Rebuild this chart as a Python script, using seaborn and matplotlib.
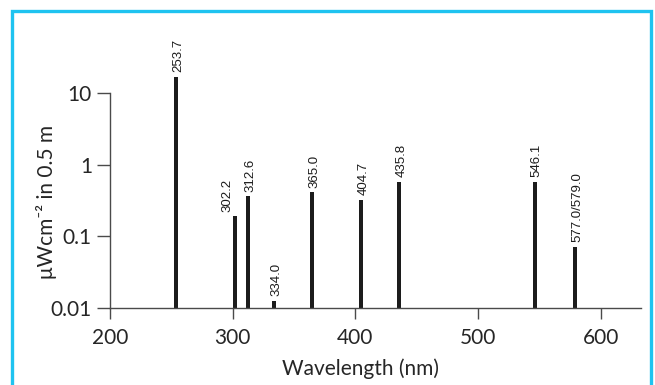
import matplotlib
matplotlib.use("Agg")
import matplotlib.pyplot as plt
from matplotlib.patches import Rectangle
import seaborn as sns
import pandas as pd

# DATA

wavelengths = [253.7, 302.2, 312.6, 334.0, 365.0, 404.7, 435.8, 546.1, 579.0]
intensity = [16.5, 0.19, 0.36, 0.0128, 0.41, 0.32, 0.58, 0.58, 0.072]
line_labels = ["253.7", "302.2", "312.6", "334.0", "365.0",
               "404.7", "435.8", "546.1", "577.0/579.0"]
x_ticks = [200, 300, 400, 500, 600]
y_ticks = [0.01, 0.1, 1, 10]
y_tick_labels = ["0.01", "0.1", "1", "10"]

df = pd.DataFrame({"wl": wavelengths, "val": intensity})

sns.set_style("white")
plt.rcParams["font.family"] = ["Lato", "DejaVu Sans"]

axis_grey = "#4a4a4a"

fig = plt.figure(figsize=(6.55, 3.85), dpi=100)
ax = fig.add_axes([110 / 655, 1 - 308.3 / 385, 531 / 655, 271.6 / 385])

sns.barplot(
    data=df, x="wl", y="val", native_scale=True, width=0.32,
    color="#1c1c1c", saturation=1, errorbar=None, linewidth=0, ax=ax
)

ax.set_yscale("log")
ax.set_ylim(0.01, 60)
ax.set_xlim(200, 632.8)

ax.set_xticks(x_ticks)
ax.set_xticklabels([str(t) for t in x_ticks])
ax.set_yticks(y_ticks)
ax.set_yticklabels(y_tick_labels)
ax.minorticks_off()

ax.tick_params(axis="y", direction="out", length=9.5, width=1.0,
               color=axis_grey, labelsize=15, pad=3.5, left=True)
ax.tick_params(axis="x", direction="out", length=8, width=1.0,
               color=axis_grey, labelsize=15, pad=6, bottom=True)

for side in ["top", "right"]:
    ax.spines[side].set_visible(False)
for side in ["left", "bottom"]:
    ax.spines[side].set_color(axis_grey)
    ax.spines[side].set_linewidth(1.0)
ax.spines["left"].set_bounds(0.01, 10)

ax.set_xlabel("Wavelength (nm)", fontsize=15)
ax.xaxis.set_label_coords(0.472, -0.185)
ax.set_ylabel("μWcm⁻² in 0.5 m", fontsize=15)
ax.yaxis.set_label_coords(-0.10, 0.39)

# line labels above each bar
label_dx = {"302.2": -6}
for wl, val, lab in zip(wavelengths, intensity, line_labels):
    ax.annotate(
        lab, (wl, val), xytext=(label_dx.get(lab, 1.5), 3.5),
        textcoords="offset points", rotation=90, ha="center", va="bottom",
        fontsize=9.5, family=["Liberation Sans", "DejaVu Sans"], color="#1c1c1c"
    )

# cyan frame around the figure
fig.patches.append(Rectangle(
    (11.5 / 655, -0.1), (651 - 11.5) / 655, 1.1 - 10.5 / 385,
    transform=fig.transFigure, fill=False, edgecolor="#1fc3f0", linewidth=2.4
))

fig.savefig("out.png", dpi=100)
